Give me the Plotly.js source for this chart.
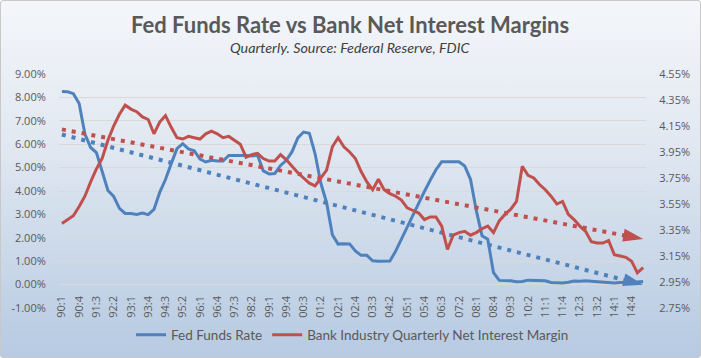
<!DOCTYPE html>
<html><head><meta charset="utf-8">
<script src="https://cdn.plot.ly/plotly-3.0.1.min.js"></script>
<style>
html,body{margin:0;padding:0;background:#fff;}
#wrap{position:relative;width:701px;height:358px;box-sizing:border-box;border:1px solid #c8c8c8;border-radius:3px;
background:linear-gradient(to bottom,#f4f6fa 0%,#e1e8f1 40%,#b6cae2 100%);overflow:hidden}
#chart{position:absolute;left:-1px;top:-1px;width:701px;height:358px}
</style></head>
<body>
<div id="wrap"><div id="chart"></div></div>
<script>
const quarters = [
'90:1','90:2','90:3','90:4','91:1','91:2','91:3','91:4','92:1','92:2','92:3','92:4',
'93:1','93:2','93:3','93:4','94:1','94:2','94:3','94:4','95:1','95:2','95:3','95:4',
'96:1','96:2','96:3','96:4','97:1','97:2','97:3','97:4','98:1','98:2','98:3','98:4',
'99:1','99:2','99:3','99:4','00:1','00:2','00:3','00:4','01:1','01:2','01:3','01:4',
'02:1','02:2','02:3','02:4','03:1','03:2','03:3','03:4','04:1','04:2','04:3','04:4',
'05:1','05:2','05:3','05:4','06:1','06:2','06:3','06:4','07:1','07:2','07:3','07:4',
'08:1','08:2','08:3','08:4','09:1','09:2','09:3','09:4','10:1','10:2','10:3','10:4',
'11:1','11:2','11:3','11:4','12:1','12:2','12:3','12:4','13:1','13:2','13:3','13:4',
'14:1','14:2','14:3','14:4','15:1','15:2'];

const fedFunds = [
8.25,8.24,8.16,7.74, 6.43,5.86,5.64,4.82, 4.02,3.77,3.26,3.04,
3.04,3.00,3.06,2.99, 3.21,3.94,4.49,5.17, 5.81,6.02,5.80,5.72,
5.36,5.24,5.31,5.28, 5.28,5.52,5.53,5.51, 5.52,5.50,5.53,4.86,
4.73,4.75,5.09,5.31, 5.68,6.27,6.52,6.47, 5.59,4.33,3.50,2.13,
1.73,1.75,1.74,1.44, 1.25,1.25,1.02,1.00, 1.00,1.01,1.43,1.95,
2.47,2.94,3.46,3.98, 4.46,4.91,5.25,5.25, 5.26,5.25,5.07,4.50,
3.18,2.09,1.94,0.51, 0.18,0.18,0.16,0.12, 0.13,0.19,0.19,0.19,
0.16,0.09,0.08,0.07, 0.10,0.15,0.14,0.16, 0.14,0.12,0.08,0.09,
0.07,0.09,0.09,0.10, 0.11,0.13];

const netInterestMargin = [
3.40,3.43,3.46,3.53, 3.61,3.72,3.82,3.90, 4.04,4.15,4.24,4.31,
4.28,4.26,4.22,4.20, 4.09,4.18,4.23,4.14, 4.06,4.05,4.07,4.06,
4.05,4.09,4.11,4.09, 4.06,4.07,4.04,4.01, 3.91,3.93,3.94,3.90,
3.88,3.88,3.93,3.89, 3.84,3.79,3.75,3.71, 3.69,3.75,3.81,3.99,
4.06,3.99,3.95,3.90, 3.80,3.72,3.66,3.74, 3.66,3.63,3.61,3.58,
3.52,3.50,3.48,3.43, 3.45,3.45,3.38,3.20, 3.31,3.33,3.34,3.31,
3.33,3.36,3.38,3.33, 3.42,3.47,3.51,3.57, 3.84,3.77,3.75,3.70,
3.66,3.61,3.55,3.57, 3.47,3.43,3.38,3.34, 3.26,3.25,3.25,3.27,
3.16,3.15,3.14,3.11, 3.02,3.06];

const xTickLabels = ['90:1','90:4','91:3','92:2','93:1','93:4','94:3','95:2','96:1','96:4','97:3','98:2',
'99:1','99:4','00:3','01:2','02:1','02:4','03:3','04:2','05:1','05:4','06:3','07:2','08:1','08:4',
'09:3','10:2','11:1','11:4','12:3','13:2','14:1','14:4'];
const leftTickVals = [-1,0,1,2,3,4,5,6,7,8,9];
const leftTickText = ['-1.00%','0.00%','1.00%','2.00%','3.00%','4.00%','5.00%','6.00%','7.00%','8.00%','9.00%'];
const rightTickVals = [2.75,2.95,3.15,3.35,3.55,3.75,3.95,4.15,4.35,4.55];
const rightTickText = ['2.75%','2.95%','3.15%','3.35%','3.55%','3.75%','3.95%','4.15%','4.35%','4.55%'];

const BLUE = '#4f81bd', RED = '#c0504d';

// least-squares linear trend (as Excel's linear trendline)
function linearTrend(y) {
  const n = y.length; let sx=0, sy=0, sxx=0, sxy=0;
  y.forEach((v,i)=>{ sx+=i; sy+=v; sxx+=i*i; sxy+=i*v; });
  const b = (n*sxy - sx*sy)/(n*sxx - sx*sx);
  const a = (sy - b*sx)/n;
  return y.map((_,i)=>a+b*i);
}
const arrowSizes = quarters.map((_,i)=> i===quarters.length-1 ? 21 : 0);

const traces = [
  {x: quarters, y: fedFunds, type:'scatter', mode:'lines', name:'Fed Funds Rate',
   line:{color:BLUE, width:3}, yaxis:'y'},
  {x: quarters, y: netInterestMargin, type:'scatter', mode:'lines', name:'Bank Industry Quarterly Net Interest Margin',
   line:{color:RED, width:3}, yaxis:'y2'},
  {x: quarters, y: linearTrend(fedFunds), type:'scatter', mode:'lines+markers', showlegend:false, hoverinfo:'skip',
   line:{color:BLUE, width:4, dash:'4px,6px'},
   marker:{symbol:'arrow', size:arrowSizes, angleref:'previous', color:BLUE, opacity:1, line:{width:0}}, yaxis:'y', cliponaxis:false},
  {x: quarters, y: linearTrend(netInterestMargin), type:'scatter', mode:'lines+markers', showlegend:false, hoverinfo:'skip',
   line:{color:RED, width:4, dash:'4px,6px'},
   marker:{symbol:'arrow', size:arrowSizes, angleref:'previous', color:RED, opacity:1, line:{width:0}}, yaxis:'y2', cliponaxis:false}
];

const tickFont = {family:'"Open Sans", sans-serif', size:11, color:'#595959'};
const layout = {
  width:701, height:358,
  margin:{l:59, r:55, t:74, b:50},
  paper_bgcolor:'rgba(0,0,0,0)', plot_bgcolor:'rgba(0,0,0,0)',
  showlegend:true,
  legend:{orientation:'h', x:0.5, xanchor:'center', yref:'container', y:0.064, yanchor:'middle',
    font:{family:'Lato, sans-serif', size:13.5, color:'#595959'}, bgcolor:'rgba(0,0,0,0)'},
  xaxis:{type:'category', range:[-0.5, quarters.length-0.5], anchor:'free', position:0.1,
    tickmode:'array', tickvals:xTickLabels, ticktext:xTickLabels, tickangle:-90,
    ticks:'outside', ticklen:6, tickcolor:'rgba(0,0,0,0)', showgrid:false, showline:false, zeroline:false,
    tickfont:tickFont},
  yaxis:{range:[-1,9], tickmode:'array', tickvals:leftTickVals, ticktext:leftTickText,
    showgrid:true, gridcolor:'#d9d9d9', gridwidth:1, zeroline:false, showline:false,
    ticks:'outside', ticklen:10, tickcolor:'rgba(0,0,0,0)', tickfont:tickFont},
  yaxis2:{range:[2.75,4.55], overlaying:'y', side:'right', tickmode:'array', tickvals:rightTickVals, ticktext:rightTickText,
    showgrid:false, zeroline:false, showline:false,
    ticks:'outside', ticklen:10, tickcolor:'rgba(0,0,0,0)', tickfont:tickFont},
  annotations:[
    {text:'<b>Fed Funds Rate vs Bank Net Interest Margins</b>', xref:'paper', yref:'paper', x:0.495, y:1.213,
     xanchor:'center', yanchor:'middle', showarrow:false, font:{family:'Lato, sans-serif', size:22, color:'#595959'}},
    {text:'<i>Quarterly. Source: Federal Reserve, FDIC</i>', xref:'paper', yref:'paper', x:0.495, y:1.115,
     xanchor:'center', yanchor:'middle', showarrow:false, font:{family:'Lato, sans-serif', size:14.3, color:'#404040'}}
  ]
};
Plotly.newPlot('chart', traces, layout, {displayModeBar:false, staticPlot:true});
</script>
</body></html>
